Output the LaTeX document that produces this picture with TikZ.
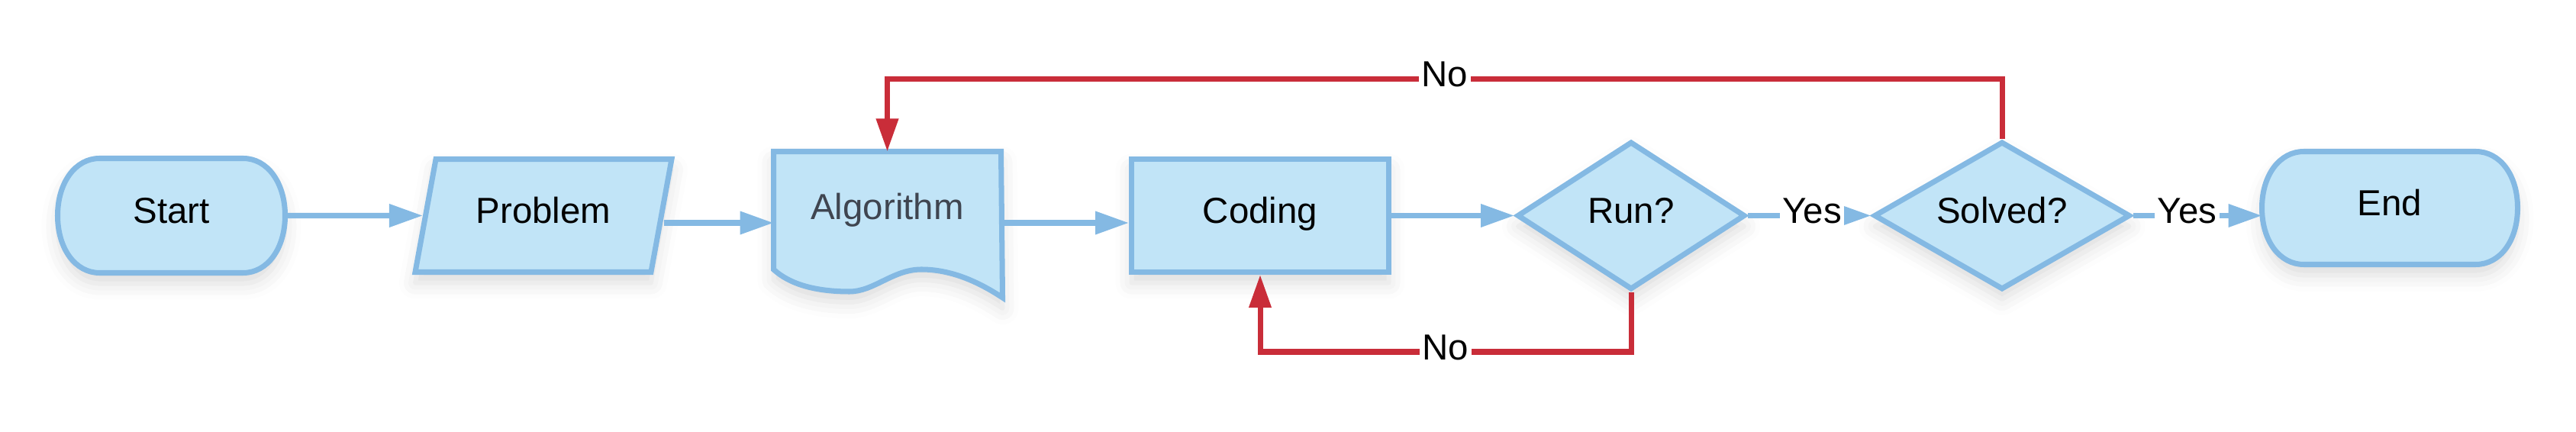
\documentclass[tikz,border=0pt]{standalone}
\usepackage{fontspec}
\setmainfont{Liberation Sans}
\usetikzlibrary{arrows.meta, calc, shapes.geometric, backgrounds, shadows.blur}

\definecolor{boxfill}{HTML}{C1E4F7}
\definecolor{boxline}{HTML}{84B9E3}
\definecolor{loopred}{HTML}{C92D39}
\definecolor{algotext}{HTML}{3F4550}

\tikzset{
  box/.style={fill=boxfill, draw=boxline, line width=2pt,
    blur shadow={shadow xshift=0pt, shadow yshift=-4pt, shadow blur radius=6pt, shadow opacity=14}},
  hidden/.style={inner sep=0pt, outer sep=0pt},
  flow/.style={-{Triangle[length=0.44cm, width=0.29cm]}, draw=boxline, line width=2pt},
  back/.style={-{Triangle[length=0.43cm, width=0.28cm]}, draw=loopred, line width=2pt},
  lbl/.style={fill=white, inner sep=1pt},
}

% Start/Ende: Rechteck mit runden Enden
\newcommand{\termshape}[1]{%
  \path[box] ($(#1.north west)+(0.55,0)$) -- ($(#1.north east)+(-0.55,0)$)
    .. controls +(0.32,0) and +(0,0.43) .. (#1.east)
    .. controls +(0,-0.43) and +(0.32,0) .. ($(#1.south east)+(-0.55,0)$)
    -- ($(#1.south west)+(0.55,0)$)
    .. controls +(-0.32,0) and +(0,-0.43) .. (#1.west)
    .. controls +(0,0.43) and +(-0.32,0) .. ($(#1.north west)+(0.55,0)$)
    -- cycle;}

\begin{document}
\begin{tikzpicture}[font=\fontsize{13.5}{16}\selectfont,
  every node/.append style={text height=9.7pt, text depth=4pt}]
\useasboundingbox (0,0) rectangle (33.75,5.66);

% Knoten
\node[hidden, minimum width=2.98cm, minimum height=1.50cm] (start) at (2.245,2.835) {Start};
\node[box, trapezium, trapezium left angle=75, trapezium right angle=105,
  trapezium stretches=true, minimum width=3.37cm, minimum height=1.48cm] (prob) at (7.12,2.835) {Problem};
\node[hidden, minimum width=2.98cm, minimum height=1.57cm, text=algotext] (algo) at (11.625,2.89) {Algorithm};
\node[box, minimum width=3.37cm, minimum height=1.48cm] (code) at (16.51,2.835) {Coding};
\node[box, diamond, shape aspect=1.5, inner sep=0pt, minimum width=2.99cm, minimum height=1.94cm] (run) at (21.37,2.835) {Run?};
\node[box, diamond, shape aspect=1.7, inner sep=0pt, minimum width=3.36cm, minimum height=1.94cm] (solv) at (26.23,2.835) {Solved?};
\node[hidden, minimum width=3.35cm, minimum height=1.48cm] (stop) at (31.31,2.935) {End};

% Formen hinter dem Text
\begin{scope}[on background layer]
\termshape{start}
\termshape{stop}
\path[box] (algo.north west) -- (algo.north east) -- (13.135,1.76)
  .. controls (12.80,1.98) and (12.45,2.13) .. (12.07,2.13)
  .. controls (11.70,2.13) and (11.45,1.84) .. (11.13,1.84)
  .. controls (10.70,1.84) and (10.35,1.93) .. (10.135,2.13) -- cycle;
\end{scope}

% Pfeile
\coordinate (lvl) at (0,2.74);
\draw[flow] (start.east) -- (prob.west);
\draw[flow] (prob.east |- lvl) -- (algo.west |- lvl);
\draw[flow] (algo.east |- lvl) -- (code.west |- lvl);
\draw[flow] (code.east) -- (run.west);
\draw[flow] (run.east) -- node[lbl, pos=0.52] {Yes} (solv.west);
\draw[flow] (solv.east) -- node[lbl, pos=0.42] {Yes} (solv.east -| stop.west);

% Ruecksprung
\draw[back] (solv.north) -- ++(0,0.78) -| node[lbl, pos=0.25] {No} (algo.north);
\draw[back] (run.south) -- ++(0,-0.78) -| node[lbl, pos=0.25] {No} (code.south);

\end{tikzpicture}
\end{document}
